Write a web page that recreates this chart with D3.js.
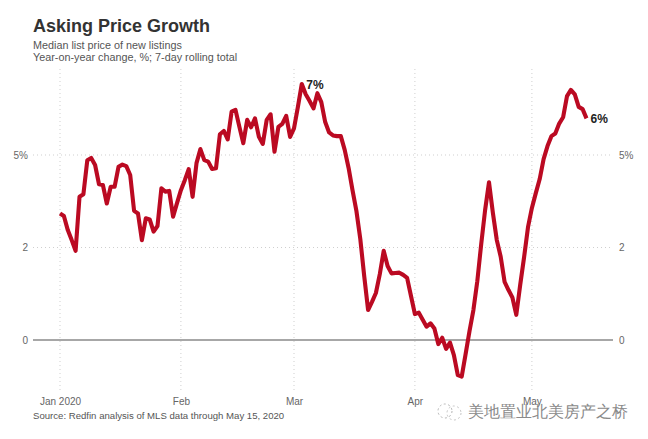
<!DOCTYPE html>
<html><head><meta charset="utf-8">
<script src="https://cdn.jsdelivr.net/npm/d3@7"></script>
<style>
html,body{margin:0;padding:0;background:#fff}
svg{display:block}
text{font-family:"Liberation Sans",Arial,sans-serif}
</style></head><body>
<svg id="c" width="648" height="439"></svg>
<script>
const titleText = "Asking Price Growth";
const subtitleLines = ["Median list price of new listings", "Year-on-year change, %; 7-day rolling total"];
const sourceText = "Source: Redfin analysis of MLS data through May 15, 2020";
const watermarkText = "美地置业北美房产之桥";
const startDate = "2020-01-01";
const monthTicks = ["2020-01-01","2020-02-01","2020-03-01","2020-04-01","2020-05-01"];
const monthLabels = ["Jan 2020","Feb","Mar","Apr","May"];
const yTicks = [0, 2.5, 5];
const yTickLabels = ["0","2","5%"];
const growth = [
3.42,3.35,2.97,2.70,2.41,3.87,3.94,4.86,4.92,4.73,4.21,4.19,3.69,4.14,4.14,4.68,4.74,4.70,4.46,3.49,
3.42,2.70,3.29,3.26,2.93,3.08,4.10,4.01,4.03,3.33,3.70,4.05,4.32,4.62,3.87,4.78,5.16,4.86,4.82,4.62,
4.64,5.56,5.65,5.42,6.17,6.22,5.76,5.32,5.95,5.75,5.99,5.49,5.30,5.95,6.10,5.09,5.76,5.84,6.06,5.49,
5.72,6.30,6.92,6.64,6.46,6.26,6.67,6.43,5.89,5.61,5.53,5.51,5.51,5.14,4.65,4.05,3.49,2.73,1.73,0.81,
1.03,1.27,1.78,2.41,2.00,1.80,1.81,1.82,1.76,1.68,1.19,0.70,0.74,0.55,0.36,0.45,0.31,-0.11,0.06,-0.24,
-0.07,-0.41,-0.95,-0.99,-0.38,0.24,0.81,1.59,2.59,3.51,4.26,3.43,2.70,2.25,1.57,1.35,1.15,0.68,1.49,2.24,
3.05,3.57,3.97,4.35,4.89,5.24,5.51,5.58,5.85,6.02,6.59,6.76,6.64,6.30,6.24,5.99];
const peakIndex = 62, peakLabel = "7%", lastLabel = "6%";

const svg = d3.select("#c");
const start = new Date(startDate + "T00:00:00Z");
const dates = growth.map((_, i) => d3.utcDay.offset(start, i));
const x = d3.scaleUtc().domain([start, dates[dates.length-1]]).range([60, 586.5]);
const y = d3.scaleLinear().domain([-1, 7]).range([377, 81]);
const tickDates = monthTicks.map(s => new Date(s + "T00:00:00Z"));
const L = 33, R = 612, T = 69, B = 391;
const gridCol = "#cfcfcf", labCol = "#666";

// gridlines
svg.append("g").selectAll("line").data(tickDates).join("line")
  .attr("x1", d => x(d)).attr("x2", d => x(d)).attr("y1", T).attr("y2", B)
  .attr("stroke", gridCol).attr("stroke-width", 1).attr("stroke-dasharray", "1 3");
svg.append("g").selectAll("line").data(yTicks.filter(d => d !== 0)).join("line")
  .attr("x1", L).attr("x2", R).attr("y1", d => y(d)).attr("y2", d => y(d))
  .attr("stroke", gridCol).attr("stroke-width", 1).attr("stroke-dasharray", "1 3");
svg.append("line").attr("x1", L).attr("x2", R + 1).attr("y1", y(0)).attr("y2", y(0))
  .attr("stroke", "#8a8a8a").attr("stroke-width", 1.3);

// axes
function styleAxis(g){ g.select(".domain").remove(); g.selectAll(".tick line").remove();
  g.selectAll("text").attr("fill", labCol).attr("font-size", 10).attr("font-family", '"Liberation Sans",Arial,sans-serif'); }
svg.append("g").attr("transform", "translate(0,395)")
  .call(d3.axisBottom(x).tickValues(tickDates).tickSize(0).tickPadding(0).tickFormat((d,i) => monthLabels[i]))
  .call(styleAxis);
svg.selectAll("g").filter(function(){ return this.getAttribute("transform")==="translate(0,395)"; })
  .attr("transform", "translate(0,397.5)");
svg.append("g").attr("transform", "translate(28,0)")
  .call(d3.axisLeft(y).tickValues(yTicks).tickSize(0).tickPadding(0).tickFormat((d,i) => yTickLabels[i]))
  .call(styleAxis);
svg.append("g").attr("transform", "translate(619,0)")
  .call(d3.axisRight(y).tickValues(yTicks).tickSize(0).tickPadding(0).tickFormat((d,i) => yTickLabels[i]))
  .call(styleAxis);

// series
svg.append("path").datum(growth)
  .attr("fill", "none").attr("stroke", "#bb0a22").attr("stroke-width", 4.1)
  .attr("stroke-linejoin", "round").attr("stroke-linecap", "butt")
  .attr("d", d3.line().x((d,i) => x(dates[i])).y(d => y(d)));

// labels
svg.append("text").attr("x", x(dates[peakIndex]) + 4.5).attr("y", y(growth[peakIndex]) + 5)
  .attr("font-size", 12).attr("font-weight", 700).attr("fill", "#222").text(peakLabel);
svg.append("text").attr("x", x(dates[growth.length-1]) + 4).attr("y", y(growth[growth.length-1]) + 5)
  .attr("font-size", 12).attr("font-weight", 700).attr("fill", "#222").text(lastLabel);

// titles
svg.append("text").attr("x", 33).attr("y", 32).attr("font-size", 18).attr("font-weight", 700).attr("fill", "#333").text(titleText);
svg.selectAll(".sub").data(subtitleLines).join("text").attr("class","sub")
  .attr("x", 33).attr("y", (d,i) => 49 + i*12).attr("font-size", 10.8).attr("fill", "#555").text(d => d);
svg.append("text").attr("x", 33).attr("y", 419).attr("font-size", 9.6).attr("fill", "#555").text(sourceText);

// watermark
const wm = svg.append("g");
wm.append("circle").attr("cx", 445).attr("cy", 411).attr("r", 7).attr("fill","none").attr("stroke","#b5b5b5").attr("stroke-width",1).attr("stroke-dasharray","2 2.5");
wm.append("circle").attr("cx", 454).attr("cy", 413).attr("r", 7).attr("fill","none").attr("stroke","#c5c5c5").attr("stroke-width",1).attr("stroke-dasharray","2 2.5");
wm.append("text").attr("x", 468).attr("y", 417).attr("font-size", 16)
  .attr("font-family", '"Noto Sans CJK SC"').attr("font-weight", 300).attr("fill", "#8a8a8a").text(watermarkText);
</script></body></html>
